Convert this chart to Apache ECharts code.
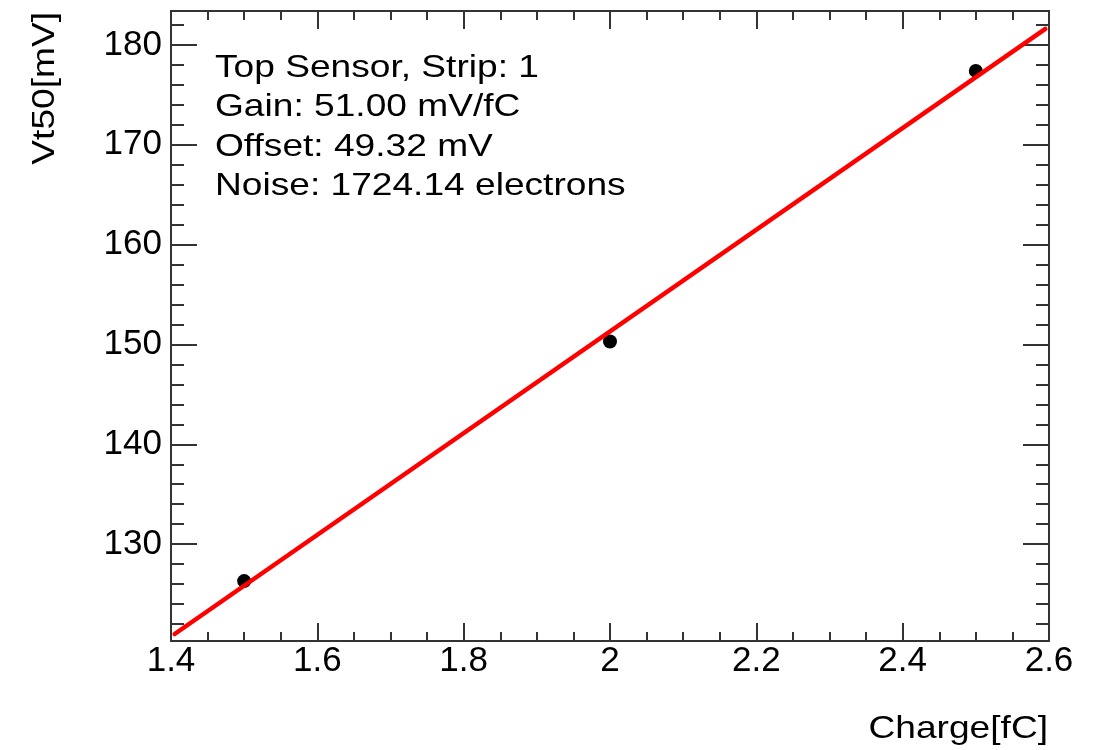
<!DOCTYPE html>
<html>
<head>
<meta charset="utf-8">
<script src="https://cdn.jsdelivr.net/npm/echarts@6/dist/echarts.min.js"></script>
<style>html,body{margin:0;padding:0;background:#fff}#main{width:1099px;height:750px}</style>
</head>
<body>
<div id="main"></div>
<script>
// measured points (charge in fC, Vt50 in mV)
var chargeFC = [1.5, 2.0, 2.5];
var vt50mV = [126.3, 150.3, 177.4];
// fit line end points
var fitX = [1.405, 2.595];
var fitY = [121.0, 181.6];
// axis ticks
var yTickLabels = [130, 140, 150, 160, 170, 180];
var yMinorTicks = [122, 124, 126, 128, 130, 132, 134, 136, 138, 140, 142, 144, 146, 148, 150,
  152, 154, 156, 158, 160, 162, 164, 166, 168, 170, 172, 174, 176, 178, 180, 182];
var infoLines = ['Top Sensor, Strip: 1', 'Gain: 51.00 mV/fC', 'Offset: 49.32 mV', 'Noise: 1724.14 electrons'];

var FONT = '"Liberation Sans", Arial, Helvetica, sans-serif';
var frameColor = '#333';

var dom = document.getElementById('main');
var myChart = echarts.init(dom);

function xAx(pos, labels) {
  return {
    type: 'value', position: pos, min: 1.4, max: 2.6, interval: 0.2,
    axisLine: { show: true, onZero: false, lineStyle: { color: frameColor, width: 2 } },
    axisTick: { show: true, inside: true, length: 18, lineStyle: { color: frameColor, width: 2 } },
    minorTick: { show: true, splitNumber: 4, length: 9, lineStyle: { color: frameColor, width: 2 } },
    axisLabel: { show: labels, color: '#000', fontSize: 35, fontFamily: FONT, margin: 3 },
    splitLine: { show: false }
  };
}
function yAx(pos, ticks, len, labels) {
  return {
    type: 'value', position: pos, min: 120.3, max: 183.4,
    axisLine: { show: true, onZero: false, lineStyle: { color: frameColor, width: 2 } },
    axisTick: { show: true, inside: true, length: len, customValues: ticks, lineStyle: { color: frameColor, width: 2 } },
    axisLabel: { show: labels, customValues: yTickLabels, color: '#000', fontSize: 35, fontFamily: FONT, margin: 9 },
    splitLine: { show: false }
  };
}

var points = chargeFC.map(function (x, i) { return [x, vt50mV[i]]; });
var fitLine = fitX.map(function (x, i) { return [x, fitY[i]]; });

var option = {
  animation: false,
  backgroundColor: '#fff',
  grid: { left: 171, top: 11, right: 50, bottom: 109, containLabel: false },
  xAxis: [xAx('bottom', true), xAx('top', false)],
  yAxis: [
    yAx('left', yTickLabels, 26, true),
    yAx('left', yMinorTicks, 13, false),
    yAx('right', yTickLabels, 26, false),
    yAx('right', yMinorTicks, 13, false)
  ],
  series: [
    {
      type: 'scatter', data: points, symbol: 'circle', symbolSize: 14,
      itemStyle: { color: '#000', opacity: 1 }, z: 2
    },
    {
      type: 'line', data: fitLine, showSymbol: false, symbol: 'none',
      lineStyle: { color: '#ff0000', width: 4.5, cap: 'round' }, z: 3
    }
  ],
  graphic: [
    {
      type: 'text', x: 215, y: 48, scaleX: 1.16,
      style: { text: infoLines.join('\n'), font: '32px ' + FONT, lineHeight: 39.5, fill: '#000' }
    },
    {
      type: 'text', x: 45, y: 12, rotation: Math.PI / 2, scaleX: 1.16,
      style: { text: 'Vt50[mV]', font: '32px ' + FONT, fill: '#000', align: 'right', verticalAlign: 'middle' }
    },
    {
      type: 'text', x: 1048, y: 729, scaleX: 1.16,
      style: { text: 'Charge[fC]', font: '32px ' + FONT, fill: '#000', align: 'right', verticalAlign: 'middle' }
    }
  ]
};

if (option && typeof option === 'object') {
  myChart.setOption(option, true);
}
</script>
</body>
</html>
